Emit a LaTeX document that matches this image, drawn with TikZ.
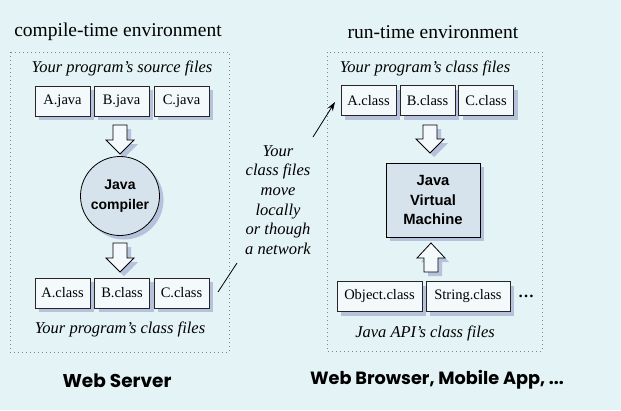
\documentclass[tikz,border=0pt]{standalone}
\usepackage{fontspec}
\setmainfont{Liberation Serif}
\newfontfamily\bsans{Liberation Sans}
\newfontfamily\geo{Poppins}
\usetikzlibrary{shadows,arrows.meta}
\definecolor{bgc}{RGB}{228,243,246}
\definecolor{boxfill}{RGB}{244,249,251}
\definecolor{procfill}{RGB}{214,227,236}
\definecolor{shadc}{RGB}{182,194,220}
\definecolor{dotc}{RGB}{120,135,150}
\tikzset{
  shad/.style={drop shadow={shadow xshift=4pt,shadow yshift=-4pt,fill=shadc,opacity=1}},
  filebox/.style={draw=black!85,line width=0.7pt,fill=boxfill,minimum width=55pt,minimum height=30pt,inner sep=0pt,font=\fontsize{14.5}{16}\selectfont,shad},
  wfilebox/.style={filebox,minimum width=85pt},
  envbox/.style={draw=dotc,line width=1pt,dash pattern=on 1pt off 3pt},
  envtitle/.style={font=\fontsize{19.5}{21}\selectfont},
  grouplabel/.style={font=\fontsize{16.5}{18}\selectfont\itshape},
  hostlabel/.style={font=\geo\bfseries\fontsize{18.5}{21}\selectfont},
  barrow/.style={draw=black,line width=0.8pt,fill=boxfill,line join=miter,shad},
  conn/.style={line width=0.8pt,black}
}
\begin{document}
\begin{tikzpicture}[x=1pt,y=-1pt]
\fill[bgc] (0,0) rectangle (621,410);
\useasboundingbox (0,0) rectangle (621,410);
% left environment
\node[envtitle] (ctitle) at (118,32) {compile-time environment};
\draw[envbox] (10,52) rectangle (229,352);
\node[grouplabel] (srclab) at (122,68) {Your program's source files};
\node[filebox] (aj) at (62.5,101) {A.java};
\node[filebox] (bj) at (121.5,101) {B.java};
\node[filebox] (cj) at (181.5,101) {C.java};
\coordinate (ar1) at (120,125);
\draw[barrow,shift={(ar1)}] (-7,0) -- (7,0) -- (7,15) -- (14,15) -- (0,29) -- (-14,15) -- (-7,15) -- cycle;
\node[circle,draw=black,line width=0.8pt,fill=procfill,minimum size=79pt,inner sep=0pt,align=center,font=\bsans\bfseries\fontsize{14}{20}\selectfont,shad] (comp) at (120,196) {Java\\compiler};
\coordinate (ar2) at (120,243);
\draw[barrow,shift={(ar2)}] (-7,0) -- (7,0) -- (7,15) -- (14,15) -- (0,29) -- (-14,15) -- (-7,15) -- cycle;
\node[filebox] (ac) at (62.5,293) {A.class};
\node[filebox] (bc) at (122,293) {B.class};
\node[filebox] (cc) at (181.5,293) {C.class};
\node[grouplabel] (clslab) at (120,329) {Your program's class files};
\node[hostlabel] (ws) at (117,381) {Web Server};
% middle
\node[align=center,font=\fontsize{16.5}{19.6}\selectfont\itshape] (mid) at (278,200) {Your\\class files\\move\\locally\\or though\\a network};
\coordinate (l1s) at (218,292);
\coordinate (l1e) at (237,263);
\coordinate (l2s) at (313,137);
\coordinate (l2e) at (335,102);
\draw[conn] (l1s) -- (l1e);
\draw[conn,-{Stealth[length=9pt,width=6pt]}] (l2s) -- (l2e);
% right environment
\node[envtitle] (rtitle) at (433,32) {run-time environment};
\draw[envbox] (327,52) rectangle (542,351);
\node[grouplabel] (rclslab) at (425,68) {Your program's class files};
\node[filebox] (rac) at (368.5,100.5) {A.class};
\node[filebox] (rbc) at (427.5,100.5) {B.class};
\node[filebox] (rcc) at (486,100.5) {C.class};
\coordinate (ar3) at (430,125);
\draw[barrow,shift={(ar3)}] (-7,0) -- (7,0) -- (7,14) -- (14,14) -- (0,28) -- (-14,14) -- (-7,14) -- cycle;
\node[rectangle,draw=black,line width=0.8pt,fill=procfill,minimum width=94pt,minimum height=74pt,inner sep=0pt,align=center,font=\bsans\bfseries\fontsize{14.8}{19.5}\selectfont,shad] (jvm) at (433,200) {Java\\Virtual\\Machine};
\coordinate (ar4) at (431,272);
\draw[barrow,shift={(ar4)}] (-7,0) -- (7,0) -- (7,-14) -- (14,-14) -- (0,-29) -- (-14,-14) -- (-7,-14) -- cycle;
\node[wfilebox] (obj) at (379.5,296.5) {Object.class};
\node[wfilebox,minimum width=84pt] (str) at (468,296.5) {String.class};
\node[font=\bfseries\fontsize{16}{18}\selectfont] (dots) at (526,296) {\dots};
\node[grouplabel] (apilab) at (425,333) {Java API's class files};
\node[hostlabel,font=\geo\bfseries\fontsize{17.7}{21}\selectfont] (wb) at (437,380) {Web Browser, Mobile App, ...};
\end{tikzpicture}
\end{document}
